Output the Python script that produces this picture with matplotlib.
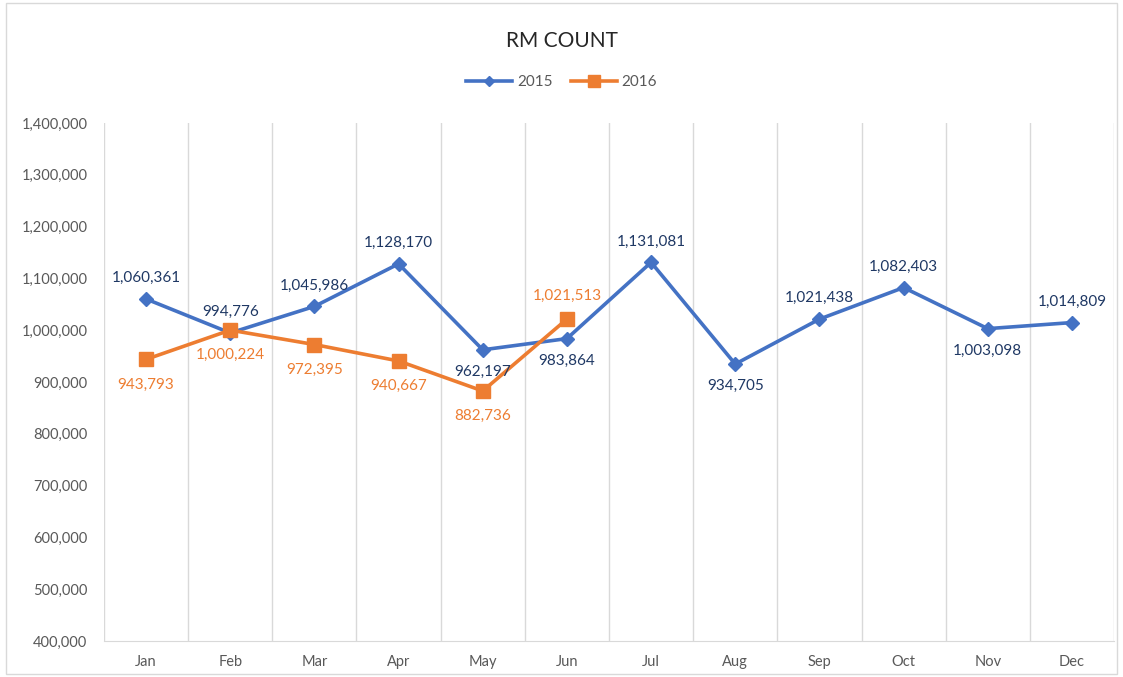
import matplotlib
matplotlib.use("Agg")
from matplotlib import pyplot as plt
from matplotlib.ticker import FuncFormatter, MultipleLocator

plt.rcParams['font.family'] = ['Lato', 'DejaVu Sans']

meses = ['Jan', 'Feb', 'Mar', 'Apr', 'May', 'Jun', 'Jul', 'Aug', 'Sep', 'Oct', 'Nov', 'Dec']
valores_2015 = [1060361, 994776, 1045986, 1128170, 962197, 983864,
                1131081, 934705, 1021438, 1082403, 1003098, 1014809]
valores_2016 = [943793, 1000224, 972395, 940667, 882736, 1021513]

# posicao dos rotulos: 1 = acima, -1 = abaixo
pos_2015 = [1, 1, 1, 1, -1, -1, 1, -1, 1, 1, -1, 1]
pos_2016 = [-1, -1, -1, -1, -1, 1]

azul = '#4472c4'
laranja = '#ed7d31'

fig = plt.figure(figsize=(11.23, 6.77), dpi=100)
ax = fig.add_axes([0.0926, 0.0532, 0.8994, 0.7650])

x15 = range(len(valores_2015))
x16 = range(len(valores_2016))
ax.plot(x15, valores_2015, color=azul, lw=2.6, marker='D', ms=7, label='2015', zorder=3)
ax.plot(x16, valores_2016, color=laranja, lw=2.6, marker='s', ms=10, label='2016', zorder=4)

for i, v in enumerate(valores_2015):
    off = 10 if pos_2015[i] > 0 else -11
    ax.annotate(f"{v:,}", (i, v), xytext=(0, off), textcoords='offset points',
                ha='center', va='bottom' if off > 0 else 'top', fontsize=11,
                color='#1f3864', zorder=6)
for i, v in enumerate(valores_2016):
    off = 12 if pos_2016[i] > 0 else -13
    ax.annotate(f"{v:,}", (i, v), xytext=(0, off), textcoords='offset points',
                ha='center', va='bottom' if off > 0 else 'top', fontsize=11,
                color=laranja, zorder=6)

ax.set_xlim(-0.5, len(meses) - 0.5)
ax.set_ylim(400000, 1400000)
ax.set_xticks(list(x15))
ax.set_xticklabels(meses)
ax.yaxis.set_major_locator(MultipleLocator(100000))
ax.yaxis.set_major_formatter(FuncFormatter(lambda v, p: f"{int(v):,}"))
ax.tick_params(axis='both', length=0, labelsize=10.5, colors='#595959')
ax.tick_params(axis='x', pad=10)
ax.tick_params(axis='y', pad=12)

for b in range(len(meses) + 1):
    ax.axvline(b - 0.5, color='#d9d9d9', lw=1, zorder=0)

for s in ['top', 'right', 'left']:
    ax.spines[s].set_visible(False)
ax.spines['bottom'].set_color('#d9d9d9')

fig.text(0.5, 0.94, 'RM COUNT', ha='center', va='center', fontsize=15, color='#262626')
fig.legend(loc='center', bbox_to_anchor=(0.5, 0.879), ncol=2, frameon=False,
           fontsize=11, labelcolor='#595959', handlelength=3, columnspacing=1.2,
           handletextpad=0.3, markerscale=0.8)

borda = plt.Rectangle((0.005, 0.005), 0.99, 0.99, transform=fig.transFigure,
                      fill=False, edgecolor='#d9d9d9', lw=1)
fig.patches.append(borda)

fig.savefig('out.png', dpi=100)
